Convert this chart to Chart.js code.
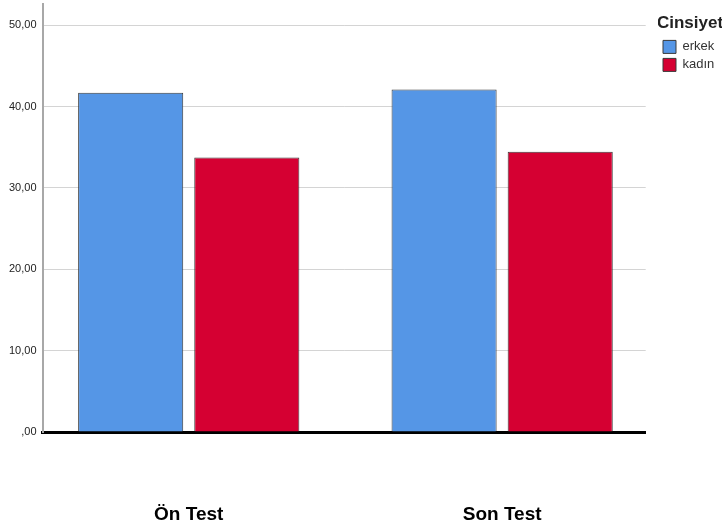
<!DOCTYPE html>
<html>
<head>
<meta charset="utf-8">
<script src="https://cdn.jsdelivr.net/npm/chart.js@4"></script>
<style>
html,body{margin:0;padding:0;background:#fff;}
#wrap{width:726px;height:530px;position:relative;}
</style>
</head>
<body>
<div id="wrap"><canvas id="c" width="726" height="530"></canvas></div>
<script>
const categories = ["Ön Test", "Son Test"];
const seriesNames = ["erkek", "kadın"];
const erkekValues = [41.7, 42.1];
const kadinValues = [33.75, 34.45];
const yTickValues = [0, 10, 20, 30, 40, 50];
const legendTitle = "Cinsiyet";

const fmt = v => (v === 0 ? ",00" : v.toFixed(2).replace(".", ","));
const toPoints = arr => arr.map((v, i) => ({ x: i, y: v }));

// nudge the legend box horizontally after layout (title centered, items indented)
const legendNudge = {
  id: "legendNudge",
  afterLayout(chart) {
    const lg = chart.legend;
    if (!lg) return;
    lg.left = 658; lg.right = 722; lg.width = 64;
    if (lg.adjustHitBoxes) lg.adjustHitBoxes();
  }
};

new Chart(document.getElementById("c"), {
  type: "bar",
  data: {
    datasets: [
      { label: seriesNames[0], data: toPoints(erkekValues), backgroundColor: "#5596E6", borderColor: "#3a3a3a", borderWidth: 1 },
      { label: seriesNames[1], data: toPoints(kadinValues), backgroundColor: "#D50032", borderColor: "#3a3a3a", borderWidth: 1 }
    ]
  },
  plugins: [legendNudge],
  options: {
    responsive: false,
    animation: false,
    devicePixelRatio: 1,
    layout: { padding: { left: 3, right: 14, top: 4, bottom: 0 } },
    datasets: { bar: { categoryPercentage: 0.741, barPercentage: 0.905 } },
    scales: {
      x: {
        type: "linear",
        offset: false,
        min: -0.4665, max: 1.458,
        afterBuildTicks: axis => { axis.ticks = categories.map((c, i) => ({ value: i })); },
        grid: { display: false, offset: false },
        border: { display: true, color: "#000", width: 3 },
        afterFit: s => { s.height = 98; s.paddingLeft = 0; s.paddingRight = 0; },
        ticks: { padding: 63, color: "#000", maxRotation: 0, font: { family: "Arial, 'Liberation Sans'", size: 19, weight: "bold" }, callback: v => categories[v] }
      },
      y: {
        min: 0, max: 52.6,
        afterBuildTicks: axis => { axis.ticks = yTickValues.map(v => ({ value: v })); },
        afterFit: s => { s.paddingTop = 0; s.paddingBottom = 0; },
        grid: { color: "#d4d4d4", lineWidth: 1, drawTicks: false },
        border: { display: true, color: "#a8a8a8", width: 2 },
        ticks: { padding: 6, color: "#222", font: { family: "Arial, 'Liberation Sans'", size: 11 }, callback: v => fmt(v) }
      }
    },
    plugins: {
      tooltip: { enabled: false },
      legend: {
        position: "right",
        align: "start",
        title: { display: true, text: legendTitle, color: "#222", position: "center", padding: { top: 11, bottom: 0 }, font: { family: "Arial, 'Liberation Sans'", size: 17, weight: "bold" } },
        labels: { boxWidth: 13, boxHeight: 13, padding: 5, color: "#333", font: { family: "Arial, 'Liberation Sans'", size: 13 } }
      }
    }
  }
});
</script>
</body>
</html>
